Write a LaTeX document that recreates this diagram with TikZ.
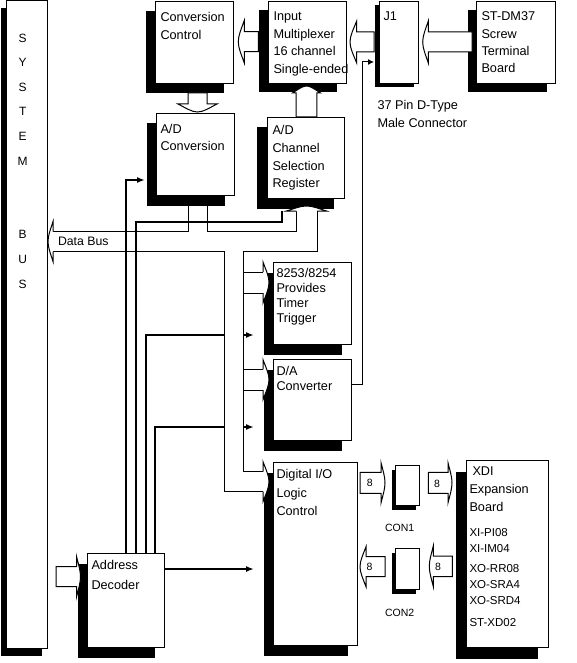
\documentclass[tikz,border=0pt]{standalone}
\usepackage{fontspec}
\setmainfont{Liberation Sans}
\usetikzlibrary{arrows.meta,shadows}

\newcommand\boxfont{\fontsize{12.7}{17.5}\selectfont}
\newcommand\smallfont{\fontsize{10.5}{12}\selectfont}

\tikzset{
  box/.style={draw, fill=white, anchor=north west, inner sep=0pt},
  shadowed/.style 2 args={drop shadow={shadow xshift=-#1pt, shadow yshift=-#2pt, fill=black, opacity=1}},
  lbl/.style={anchor=base west, inner sep=0pt, align=left, font=\boxfont},
  num/.style={anchor=base, inner sep=0pt, font=\smallfont},
  wire/.style={line width=2pt},
  tip/.style={-{Latex[length=8pt,width=6pt]}},
  % hollow arrow pointing right, tip at the origin
  pics/blkarrow/.style n args={4}{code={
    \draw[fill=white] ({-#4-#1},{#2}) -- ({-#4},{#2}) -- ({-#4},{#3})
      .. controls ({-0.5*#4},{0.6*#3}) and (0,{0.3*#3}) .. (0,0)
      .. controls (0,{-0.3*#3}) and ({-0.5*#4},{-0.6*#3}) .. ({-#4},{-#3})
      -- ({-#4},{-#2}) -- ({-#4-#1},{-#2}) -- cycle;
  }},
  % open head at the end of a bus
  pics/bushead/.style n args={3}{code={
    \fill[white] ({-#3},{#1}) -- ({-#3},{#2})
      .. controls ({-0.5*#3},{0.6*#2}) and (0,{0.3*#2}) .. (0,0)
      .. controls (0,{-0.3*#2}) and ({-0.5*#3},{-0.6*#2}) .. ({-#3},{-#2})
      -- ({-#3},{-#1}) -- cycle;
    \draw ({-#3},{#1}) -- ({-#3},{#2})
      .. controls ({-0.5*#3},{0.6*#2}) and (0,{0.3*#2}) .. (0,0)
      .. controls (0,{-0.3*#2}) and ({-0.5*#3},{-0.6*#2}) .. ({-#3},{-#2})
      -- ({-#3},{-#1});
  }},
}

\begin{document}
\begin{tikzpicture}[x=1pt,y=-1pt,line width=1pt]
\useasboundingbox (0,0) rectangle (576,663);

% blocks
\node[box,shadowed={6}{7},minimum width=41pt,minimum height=647.5pt] (sysbus) at (6,0.5) {};
\node[box,shadowed={10}{10},minimum width=78pt,minimum height=82pt] (cc) at (155,1) {};
\node[box,shadowed={10}{9},minimum width=78pt,minimum height=82pt] (mux) at (268,1) {};
\node[box,shadowed={5}{4},minimum width=39pt,minimum height=82pt] (j1) at (379,1) {};
\node[box,shadowed={9}{9},minimum width=79pt,minimum height=82pt] (stdm) at (476,1) {};
\node[box,shadowed={10}{10},minimum width=78pt,minimum height=82pt] (adc) at (156,113) {};
\node[box,shadowed={11}{10},minimum width=77pt,minimum height=81pt] (reg) at (267,117) {};
\node[box,shadowed={10}{10},minimum width=78pt,minimum height=82pt] (timer) at (273,262) {};
\node[box,shadowed={10}{10},minimum width=78pt,minimum height=81pt] (da) at (273,359) {};
\node[box,shadowed={10}{10},minimum width=84pt,minimum height=183pt] (dio) at (273,462) {};
\node[box,shadowed={10}{10},minimum width=77pt,minimum height=94pt] (dec) at (87,553) {};
\node[box,shadowed={4}{4},minimum width=24pt,minimum height=40pt] (con1) at (395,465) {};
\node[box,shadowed={4}{4},minimum width=24pt,minimum height=41pt] (con2) at (395,548) {};
\node[box,shadowed={11}{11},minimum width=82pt,minimum height=187pt] (xdi) at (466,460) {};

% data bus
\draw (188,205) -- (188,231.5) -- (53,231.5);
\draw (53,251.5) -- (224,251.5) -- (224,491.7) -- (263,491.7);
\draw (207,205) -- (207,231.5) -- (296,231.5) -- (296,211);
\draw (317,211) -- (317,251.5) -- (243,251.5) -- (243,471.7) -- (263,471.7);
\draw (243,272) -- (263,272) (243,293) -- (263,293);
\draw (243,369.5) -- (263,369.5) (243,390) -- (263,390);
\pic[rotate=180] at (48,241.5) {bushead={10}{20}{5}};
\pic[rotate=90] at (306.5,206) {bushead={10.5}{20}{5}};
\pic at (269,282.5) {bushead={10.5}{20.5}{6}};
\pic at (269,379.7) {bushead={10.3}{20}{6}};
\pic at (269,481.7) {bushead={10}{20}{6}};
\coordinate (bl) at (224,251.5);
\coordinate (br) at (243,251.5);

% decoder lines
\draw[wire,tip] ([xshift=39pt]dec.north west) |- ([xshift=-11pt,yshift=-67pt]adc.north west);
\draw[wire] ([xshift=49pt]dec.north west) |- ([xshift=15pt,yshift=-23pt]reg.south west)
  -- ([xshift=15pt,yshift=-12pt]reg.south west);
\draw[wire] ([xshift=59pt]dec.north west) |- ([yshift=10pt]timer.south west -| bl);
\draw[wire,tip] ([yshift=10pt]timer.south west -| br) -- ++(11,0);
\draw[wire] ([xshift=68pt]dec.north west) |- ([yshift=14pt]da.south west -| bl);
\draw[wire,tip] ([yshift=14pt]da.south west -| br) -- ++(11,0);
\draw[wire,tip] ([yshift=-16pt]dec.north east) -- ([xshift=-19pt,yshift=-107pt]dio.north west);

% D/A output to J1
\draw[-{Latex[length=6pt,width=6pt]}] ([yshift=-25pt]da.north east) -- ++(10,0)
  |- ([xshift=-5pt,yshift=-61pt]j1.north west);

% hollow arrows
\pic[rotate=180] at (422.7,42) {blkarrow={43.7}{10}{21}{5.6}};
\pic[rotate=180] at (350,42) {blkarrow={17.3}{10}{21}{6.7}};
\pic[rotate=180] at (238.3,41.7) {blkarrow={14}{10}{21.3}{6}};
\pic[rotate=-90] at (197.5,112) {blkarrow={11}{9.5}{19.5}{8}};
\pic[rotate=90] at (306.5,86) {blkarrow={24}{10.3}{14}{7}};
\pic at (80.5,576.7) {blkarrow={20.5}{10}{20.3}{4}};
\pic at (385,482.8) {blkarrow={21}{10.5}{20.2}{4}};
\pic at (452,482.8) {blkarrow={19.7}{10.5}{20}{4}};
\pic[rotate=180] at (429.3,566.3) {blkarrow={19}{10.3}{20.3}{4}};
\pic[rotate=180] at (360,566.7) {blkarrow={19}{10}{20}{6}};

% labels (base = last line)
\node[anchor=base, inner sep=0pt, align=center, font=\fontsize{12}{24.6}\selectfont] (sys-t) at (22.7,288)
  {S\\Y\\S\\T\\E\\M\\[49.2pt]B\\U\\S};
\node[lbl] (cc-t) at (160,39.5) {Conversion\\Control};
\node[lbl] (mux-t) at (273,73.5) {Input\\Multiplexer\\16 channel\\Single-ended};
\node[lbl] (j1-t) at (383,21) {J1};
\node[lbl,font=\fontsize{12.7}{17.2}\selectfont] (stdm-t) at (481,72.6) {ST-DM37\\Screw\\Terminal\\Board};
\node[lbl,font=\fontsize{12.7}{18}\selectfont] (j1-n) at (377,127.3) {37 Pin D-Type\\Male Connector};
\node[lbl,font=\fontsize{12.7}{16.7}\selectfont] (adc-t) at (160,150.7) {A/D\\Conversion};
\node[lbl,font=\fontsize{12.7}{17.6}\selectfont] (reg-t) at (272,187.8) {A/D\\Channel\\Selection\\Register};
\node[lbl,font=\fontsize{12.7}{14.9}\selectfont] (timer-t) at (276,322.4) {8253/8254\\Provides\\Timer\\Trigger};
\node[lbl,font=\fontsize{12.7}{15}\selectfont] (da-t) at (276,390.7) {D/A\\Converter};
\node[lbl,font=\fontsize{12.7}{18.7}\selectfont] (dio-t) at (276,515.7) {Digital I/O\\Logic\\Control};
\node[lbl,font=\fontsize{12.7}{19.3}\selectfont] (dec-t) at (91,589) {Address\\Decoder};
\node[lbl,font=\fontsize{12.3}{14}\selectfont] (bus-t) at (57.5,245.5) {Data Bus};
\node[lbl,font=\fontsize{12.7}{18}\selectfont] (xdi-t) at (469,511.7) {\hspace*{3pt}XDI\\Expansion\\Board};
\node[lbl,font=\fontsize{11.5}{16}\selectfont] (xi-t) at (469,552.3) {XI-PI08\\XI-IM04};
\node[lbl,font=\fontsize{11.5}{16.2}\selectfont] (xo-t) at (469,604.7) {XO-RR08\\XO-SRA4\\XO-SRD4};
\node[lbl,font=\fontsize{11.5}{16}\selectfont] (st-t) at (469,626.7) {ST-XD02};
\node[num] (con1-t) at (399.7,531.7) {CON1};
\node[num] (con2-t) at (399.7,616) {CON2};
\node[num] (n1) at (369.7,486.7) {8};
\node[num] (n2) at (437,487.3) {8};
\node[num] (n3) at (438,570) {8};
\node[num] (n4) at (369.5,570) {8};
\end{tikzpicture}
\end{document}
